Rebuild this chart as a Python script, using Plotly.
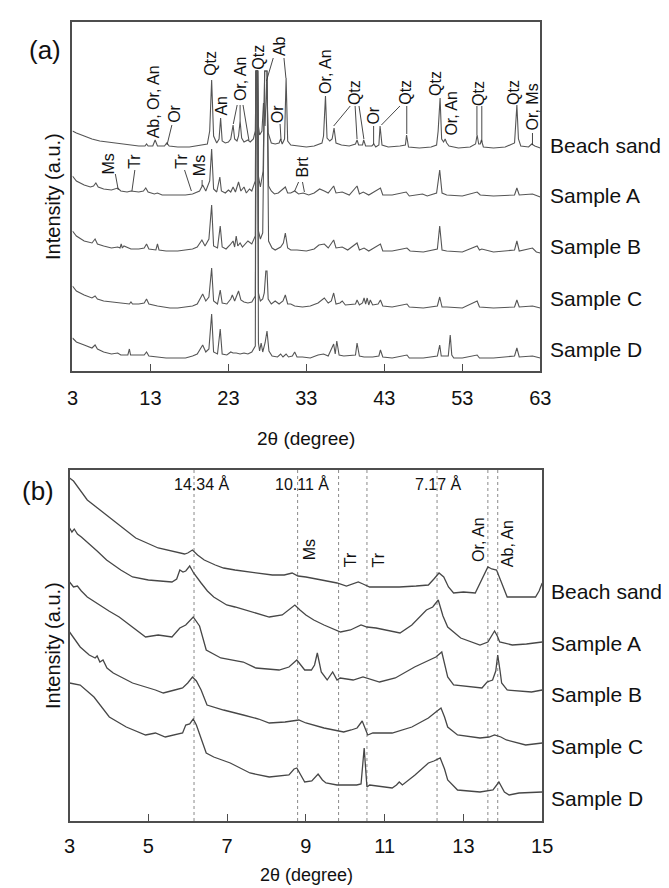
import plotly.graph_objects as go

W, H = 669, 888
def PX(x): return x / W
def PY(y): return 1 - y / H

# ---------------- DATA (panel a: 2theta, stacked intensity) ----------------
a_beach = [(3.0,240),(3.5,238),(4.5,235),(5.5,232),(6.5,230),(7.5,229),(8.5,228),(9.5,227),(10.5,226),(11.5,225),
 (12.3,225),(12.5,227),(12.7,225),(13.3,225),(13.6,231),(13.9,225),(14.8,225),(15.1,228),(15.4,225),(16.5,224),
 (18.0,224),(19.0,225),(19.8,226),(20.3,227),(20.6,240),(20.85,291),(21.1,235),(21.5,228),(21.8,232),(22.0,253),
 (22.2,230),(22.6,228),(23.0,229),(23.3,232),(23.6,246),(23.8,232),(24.1,230),(24.3,235),(24.5,250),(24.7,233),
 (25.0,229),(25.5,231),(25.8,229),(26.2,232),(26.45,240),(26.55,300),(26.75,300),(26.85,245),(27.0,236),(27.3,240),
 (27.5,268),(27.7,245),(27.9,290),(28.1,238),(28.5,228),(29.0,227),(29.5,228),(29.7,232),(29.9,227),(30.2,232),
 (30.4,293),(30.6,230),(31.0,226),(32.0,225),(33.0,224),(34.0,225),(35.0,228),(35.2,235),(35.45,275),(35.65,233),
 (36.0,230),(36.3,232),(36.55,243),(36.8,228),(37.5,226),(38.5,225),(39.3,227),(39.5,231),(39.7,226),(40.2,226),
 (40.35,231),(40.6,225),(41.4,225),(41.65,227),(41.9,224),(42.3,226),(42.45,245),(42.7,226),(43.5,224),(45.0,225),
 (45.7,226),(45.85,236),(46.1,224),(47.5,223),(49.0,224),(49.7,226),(49.9,240),(50.15,273),(50.35,232),(50.6,229),
 (50.8,232),(51.0,228),(51.3,225),(52.5,223),(54.0,224),(54.7,227),(54.9,236),(55.1,227),(55.3,227),(55.45,231),
 (55.7,224),(57.0,223),(58.5,224),(59.7,228),(59.85,245),(60.0,266),(60.2,232),(60.5,225),(61.5,224),(61.9,227),
 (62.3,225),(63.0,223)]

a_sampleA = [(3.0,195),(3.5,190),(4.5,186),(5.3,184),(5.7,185),(6.0,188),(6.3,184),(7.0,182),(8.0,181),(8.8,183),
 (9.2,180),(10.0,179),(10.5,180),(11.5,179),(12.1,180),(12.4,183),(12.7,179),(13.5,177),(13.9,178),(14.5,176),
 (15.5,176),(16.5,176),(17.5,176),(18.4,177),(18.9,179),(19.3,180),(19.7,186),(20.1,180),(20.6,190),(20.85,222),
 (21.1,182),(21.5,179),(21.9,194),(22.1,180),(22.6,178),(23.0,181),(23.3,179),(23.6,184),(23.9,179),(24.3,189),
 (24.6,180),(25.0,184),(25.3,178),(25.7,182),(26.0,180),(26.45,190),(26.55,300),(26.75,300),(26.85,195),(27.1,184),
 (27.45,200),(27.65,300),(27.95,300),(28.15,185),(28.5,180),(28.9,177),(29.4,178),(29.9,181),(30.3,184),(30.6,178),
 (31.0,178),(31.5,180),(32.0,177),(32.6,178),(33.3,176),(34.0,178),(34.7,182),(35.3,180),(35.8,178),(36.5,185),
 (36.8,178),(37.6,179),(38.5,176),(39.5,185),(39.8,177),(40.3,179),(41.0,176),(42.5,183),(42.8,176),(44.0,176),
 (45.8,179),(46.2,175),(47.9,177),(48.5,175),(49.7,178),(50.1,201),(50.4,178),(51.0,176),(53.0,175),(54.9,179),
 (55.3,176),(57.0,175),(59.7,176),(60.0,183),(60.3,176),(62.0,177),(63.0,174)]

a_sampleB = [(3.0,140),(3.5,135),(4.5,130),(5.5,128),(5.9,132),(6.2,127),(7.0,125),(8.0,123),(8.8,124),(9.1,123),
 (9.25,127),(9.4,123),(9.6,125),(10.5,122),(11.5,122),(12.2,123),(12.5,127),(12.8,122),(13.7,121),(13.9,127),
 (14.1,121),(15.0,120),(16.5,120),(17.5,121),(18.4,122),(19.0,124),(19.6,131),(20.0,125),(20.5,132),(20.85,166),
 (21.1,125),(21.6,123),(21.95,145),(22.2,124),(22.7,122),(23.2,126),(23.6,130),(23.8,124),(24.0,135),(24.2,125),
 (24.5,128),(24.8,124),(25.5,130),(26.0,127),(26.45,135),(26.55,300),(26.75,300),(26.85,140),(27.1,132),(27.4,138),
 (27.65,300),(27.95,300),(28.15,130),(28.6,123),(29.0,121),(29.7,124),(30.05,128),(30.3,138),(30.6,123),(31.0,121),
 (31.8,121),(33.0,120),(34.0,122),(34.6,126),(35.3,127),(35.8,123),(36.5,131),(36.8,123),(37.6,124),(38.3,121),
 (39.5,128),(39.8,121),(40.4,123),(41.0,120),(42.5,127),(42.8,120),(44.0,120),(45.3,122),(45.9,123),(46.3,120),
 (48.0,119),(49.8,122),(50.1,145),(50.4,121),(51.0,120),(53.0,119),(54.9,125),(55.2,121),(55.5,122),(57.0,119),
 (59.7,121),(60.0,130),(60.3,120),(62.0,123),(62.5,119),(63.0,118)]

a_sampleC = [(3.0,85),(3.5,80),(4.5,76),(5.5,73),(5.9,75),(6.2,72),(7.0,70),(8.0,69),(9.0,68),(10.3,67),
 (10.5,69),(10.7,67),(11.5,67),(12.2,68),(12.5,72),(12.8,67),(13.9,65),(14.5,64),(15.5,63),(16.5,63),
 (17.5,64),(18.4,65),(19.0,67),(19.7,77),(20.1,70),(20.5,74),(20.85,103),(21.1,70),(21.6,67),(21.95,81),
 (22.2,68),(22.8,67),(23.3,72),(23.5,76),(23.8,70),(24.3,80),(24.6,71),(25.0,69),(25.5,68),(26.0,69),
 (26.45,75),(26.55,300),(26.75,300),(26.85,78),(27.1,70),(27.4,72),(27.6,78),(27.8,100),(27.95,100),(28.1,72),
 (28.5,67),(29.0,70),(29.5,67),(30.0,70),(30.3,76),(30.6,67),(31.0,67),(31.5,65),(32.5,64),(33.5,65),
 (34.5,68),(35.3,73),(35.8,68),(36.2,70),(36.5,78),(36.8,67),(37.3,68),(37.6,70),(38.0,66),(39.3,67),
 (39.5,71),(39.8,66),(40.2,68),(40.4,73),(40.6,67),(40.8,73),(41.0,66),(41.2,71),(41.5,66),(42.2,67),
 (42.5,71),(42.8,65),(44.0,64),(45.9,67),(46.2,64),(48.0,63),(49.8,65),(50.1,74),(50.4,64),(51.0,64),
 (53.0,63),(54.9,70),(55.2,64),(57.0,63),(59.7,64),(60.0,71),(60.3,64),(62.0,65),(63.0,63)]

a_sampleD = [(3.0,33),(3.5,29),(4.5,26),(5.5,23),(5.9,26),(6.2,22),(7.0,19),(8.0,17),(8.8,18),(9.2,16),
 (10.1,16),(10.3,22),(10.45,16),(11.5,16),(12.2,16),(12.5,19),(12.8,15),(13.9,14),(15.0,13),(16.5,13),
 (17.5,13),(18.4,15),(19.0,17),(19.7,26),(20.1,19),(20.5,22),(20.85,57),(21.1,19),(21.6,17),(21.95,42),
 (22.2,17),(22.8,16),(23.3,19),(23.6,18),(24.0,18),(24.5,17),(25.0,18),(25.5,17),(26.0,19),(26.45,25),
 (26.55,300),(26.75,300),(26.85,28),(27.0,20),(27.2,28),(27.4,19),(27.7,28),(27.95,40),(28.2,20),(28.6,15),
 (29.3,14),(29.7,17),(30.0,14),(30.4,17),(30.7,14),(31.2,15),(31.5,19),(31.8,14),(32.5,14),(33.5,13),
 (34.5,16),(35.2,17),(35.8,15),(36.5,27),(36.7,17),(36.9,30),(37.2,16),(37.8,15),(39.3,16),(39.5,28),
 (39.8,15),(40.4,14),(41.5,14),(42.3,15),(42.5,21),(42.8,14),(44.0,13),(45.9,16),(46.2,13),(48.0,13),
 (49.8,15),(50.1,26),(50.3,15),(51.2,15),(51.45,36),(51.65,16),(51.9,13),(53.0,13),(54.9,16),(55.2,13),
 (57.0,13),(59.7,15),(60.0,23),(60.3,14),(62.0,15),(63.0,13)]

# ---------------- DATA (panel b) ----------------
b_beach = [(3.0,343),(3.1,340),(3.45,321),(3.8,310),(4.19,298),(4.68,283),(5.25,273),(5.6,270),(5.92,267),(6.0,268),
 (6.12,271),(6.25,266),(6.42,261),(6.7,256),(6.91,253),(7.2,251),(7.58,249),(7.9,248),(8.15,246),(8.45,246),
 (8.65,248),(8.8,245),(9.0,244),(9.4,241),(9.79,238),(10.03,235),(10.2,237),(10.33,239),(10.45,237),(10.62,234),
 (11.0,234),(11.37,234),(11.8,235),(12.11,236),(12.25,242),(12.38,248),(12.5,244),(12.62,234),(12.75,228),(13.0,229),
 (13.3,228),(13.45,240),(13.62,254),(13.72,252),(13.84,251),(13.95,240),(14.11,224),(14.4,224),(14.83,224),(14.92,230),
 (15.0,238)]

b_sampleA = [(3.0,293),(3.06,289),(3.12,292),(3.2,287),(3.3,284),(3.45,279),(3.7,270),(3.94,261),(4.3,251),(4.6,244),
 (5.0,241),(5.3,240),(5.6,239),(5.72,242),(5.8,251),(5.88,249),(5.95,250),(6.05,255),(6.15,248),(6.34,238),
 (6.5,230),(6.66,224),(6.99,216),(7.2,214),(7.48,211),(7.8,207),(8.07,204),(8.4,206),(8.6,212),(8.72,216),
 (8.85,211),(9.0,206),(9.2,201),(9.46,196),(9.88,189),(10.13,191),(10.4,196),(10.55,194),(10.78,193),(11.1,190),
 (11.39,188),(11.69,196),(12.06,211),(12.22,214),(12.36,221),(12.48,205),(12.6,194),(12.93,183),(13.42,176),(13.62,179),
 (13.72,186),(13.79,190),(13.86,185),(13.92,179),(14.24,176),(14.6,177),(15.0,179)]

b_sampleB = [(3.0,239),(3.1,234),(3.2,235),(3.3,230),(3.45,224),(3.6,220),(3.77,216),(4.0,210),(4.26,204),(4.6,194),
 (4.93,184),(5.25,186),(5.6,184),(5.8,193),(5.95,196),(6.14,204),(6.3,195),(6.47,171),(6.84,163),(7.41,159),
 (7.73,153),(8.32,151),(8.57,154),(8.77,161),(8.88,155),(8.97,151),(9.14,151),(9.22,156),(9.29,168),(9.35,154),
 (9.39,149),(9.54,141),(9.68,149),(9.79,141),(9.87,143),(10.2,141),(10.45,144),(10.87,139),(11.27,143),(11.76,154),
 (12.11,161),(12.3,164),(12.45,169),(12.55,150),(12.6,144),(12.75,136),(13.47,133),(13.6,139),(13.74,141),(13.82,150),
 (13.87,166),(13.93,150),(13.97,138),(14.11,131),(14.73,129),(15.0,131)]

b_sampleC = [(3.0,189),(3.1,183),(3.27,174),(3.5,166),(3.65,163),(3.7,165),(3.77,159),(3.85,161),(3.95,153),(4.11,148),
 (4.35,143),(4.6,138),(5.18,131),(5.38,128),(5.67,131),(5.87,133),(6.0,138),(6.12,144),(6.22,140),(6.34,131),
 (6.49,116),(6.91,111),(7.41,106),(7.8,102),(8.07,98),(8.47,99),(8.82,101),(9.0,98),(9.46,93),(9.96,89),
 (10.15,91),(10.3,93),(10.43,100),(10.52,92),(10.57,86),(10.7,88),(11.19,88),(11.69,94),(12.11,103),(12.3,109),
 (12.43,113),(12.52,104),(12.6,94),(12.85,86),(13.42,83),(13.65,84),(13.79,86),(13.95,84),(14.09,81),(14.58,76),
 (15.0,78)]

b_sampleD = [(3.0,138),(3.27,136),(3.62,124),(4.01,104),(4.44,94),(4.93,86),(5.18,88),(5.43,84),(5.87,88),(5.95,96),
 (6.05,97),(6.14,102),(6.22,96),(6.29,88),(6.47,68),(6.66,64),(7.08,58),(7.58,48),(8.07,44),(8.57,46),
 (8.7,52),(8.77,53),(8.88,46),(8.97,39),(9.15,40),(9.31,47),(9.42,41),(9.51,38),(9.79,36),(10.29,36),
 (10.4,37),(10.48,73),(10.55,34),(10.62,36),(11.19,33),(11.3,36),(11.37,39),(11.45,36),(11.77,46),(12.11,58),
 (12.25,60),(12.41,63),(12.52,52),(12.6,41),(12.85,31),(13.42,29),(13.75,31),(13.9,39),(14.04,29),(14.16,26),
 (14.41,28),(15.0,29)]

sample_names = ["Beach sand", "Sample A", "Sample B", "Sample C", "Sample D"]
ticks_a = [3, 13, 23, 33, 43, 53, 63]
ticks_b = [3, 5, 7, 9, 11, 13, 15]
ref_lines_b = [6.16, 8.79, 9.83, 10.55, 12.33, 13.62, 13.87]

# ---------------- FIGURE ----------------
FONT = "Liberation Sans, Arial, sans-serif"
fig = go.Figure()

for s in [a_beach, a_sampleA, a_sampleB, a_sampleC, a_sampleD]:
    fig.add_trace(go.Scatter(x=[p[0] for p in s], y=[p[1] for p in s], mode="lines",
                             line=dict(color="#555555", width=1.1), xaxis="x", yaxis="y",
                             showlegend=False, hoverinfo="skip"))
for s in [b_beach, b_sampleA, b_sampleB, b_sampleC, b_sampleD]:
    fig.add_trace(go.Scatter(x=[p[0] for p in s], y=[p[1] for p in s], mode="lines",
                             line=dict(color="#474747", width=1.3), xaxis="x2", yaxis="y2",
                             showlegend=False, hoverinfo="skip"))

axis_common = dict(showline=True, linecolor="#4d4d4d", linewidth=1.5, mirror=True,
                   showgrid=False, zeroline=False)
fig.update_layout(
    width=W, height=H, autosize=False,
    margin=dict(l=0, r=0, t=0, b=0),
    paper_bgcolor="white", plot_bgcolor="white",
    font=dict(family=FONT, color="#111111"),
    xaxis=dict(domain=[PX(60), PX(540)], range=[3, 63], tickvals=ticks_a, ticks="inside",
               ticklen=7, tickwidth=1.3, tickcolor="#4d4d4d", tickfont=dict(size=20, family=FONT),
               ticklabelstandoff=8, anchor="y", **axis_common),
    yaxis=dict(domain=[PY(363), PY(14)], range=[0, 349], showticklabels=False, ticks="",
               anchor="x", **axis_common),
    xaxis2=dict(domain=[PX(57), PX(542)], range=[3, 15], tickvals=ticks_b, ticks="inside",
                ticklen=7, tickwidth=1.3, tickcolor="#4d4d4d", tickfont=dict(size=20, family=FONT),
                ticklabelstandoff=6, anchor="y2", **axis_common),
    yaxis2=dict(domain=[PY(813), PY(462)], range=[0, 351], showticklabels=False, ticks="",
                anchor="x2", **axis_common),
)

ann = []
def text(t, px, py, size=15, angle=0, xanchor="center"):
    ann.append(dict(text=t, x=PX(px), y=PY(py), xref="paper", yref="paper", showarrow=False,
                    textangle=angle, xanchor=xanchor, yanchor="middle",
                    font=dict(size=size, family=FONT, color="#111111")))

shapes = []
def seg(x0, y0, x1, y1, color="#333333", width=0.9):
    shapes.append(dict(type="line", xref="paper", yref="paper", x0=PX(x0), y0=PY(y0),
                       x1=PX(x1), y1=PY(y1), line=dict(color=color, width=width)))

# panel letters and axis titles
text("(a)", 32, 42, size=26)
text("(b)", 25, 483, size=26)
text("Intensity (a.u.)", 40, 188, size=20, angle=-90)
text("Intensity (a.u.)", 40, 637, size=20, angle=-90)
text("2θ (degree)", 300, 430, size=19)
text("2θ (degree)", 300, 867, size=18)

# sample labels
for name, py in zip(sample_names, [138, 187, 238, 290, 342]):
    text(name, 548, py, size=21, xanchor="left")
for name, py in zip(sample_names, [583, 635, 686, 738, 790]):
    text(name, 549, py, size=21, xanchor="left")

# panel a mineral labels (rotated)
for t, px, py in [("Ab, Or, An", 143, 94), ("Or", 164, 106), ("Qtz", 202, 55), ("An", 213, 98),
                  ("Or, An", 232, 71), ("Qtz", 250, 49), ("Ab", 272, 38), ("Or", 270, 106),
                  ("Or, An", 319, 64), ("Qtz", 350, 85), ("Or", 369, 108), ("Qtz", 401, 84),
                  ("Qtz", 433, 75), ("Or, An", 448, 106), ("Qtz", 477, 85), ("Qtz", 512, 84),
                  ("Or, Ms", 532, 99),
                  ("Ms", 97, 156), ("Tr", 124, 153), ("Tr", 172, 153), ("Ms", 191, 158), ("Brt", 295, 159)]:
    text(t, px, py, size=16, angle=-90)

# leader lines panel a
for x0, y0, x1, y1 in [(162, 117, 157, 137),
                       (229, 97, 225, 116), (232, 97, 232, 113), (235, 97, 241, 132),
                       (266, 50, 259, 73), (277, 50, 279, 70),
                       (273, 116, 274, 132),
                       (345, 98, 328, 118), (350, 98, 352, 131), (354, 98, 359, 131),
                       (369, 118, 369, 136),
                       (396, 98, 377, 117), (403, 98, 403, 126),
                       (475, 98, 475, 127), (480, 98, 480, 134),
                       (532, 125, 532, 137),
                       (104, 166, 107, 182), (124, 162, 121, 183), (175, 162, 182, 183),
                       (193, 172, 193, 178), (292, 174, 288, 183), (296, 174, 298, 184)]:
    seg(x0, y0, x1, y1)

# panel b reference lines (dotted)
for v in ref_lines_b:
    shapes.append(dict(type="line", xref="x2", yref="paper", x0=v, x1=v, y0=PY(813), y1=PY(462),
                       line=dict(color="#8a8a8a", width=1, dash="dot"), layer="below"))

# panel b labels
text("14.34 Å", 192, 476, size=16)
text("10.11 Å", 296, 476, size=16)
text("7.17 Å", 436, 476, size=16)
for t, px, py in [("Ms", 303, 542), ("Tr", 345, 552), ("Tr", 374, 552),
                  ("Or, An", 476, 532), ("Ab, An", 506, 536)]:
    text(t, px, py, size=16, angle=-90)

fig.update_layout(annotations=ann, shapes=shapes)
fig.write_html("out.html")
